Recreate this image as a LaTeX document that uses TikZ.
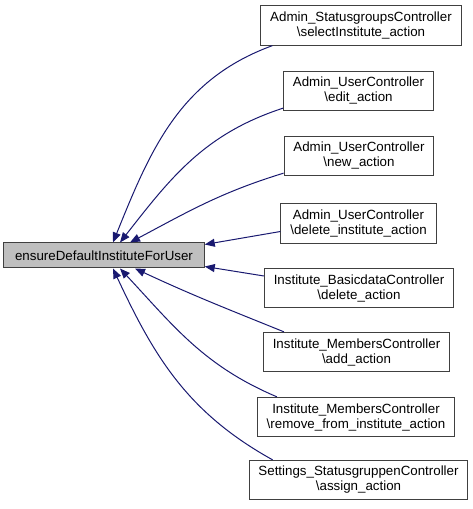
\documentclass[tikz,border=0pt]{standalone}
\usepackage{fontspec}
\setmainfont{Liberation Sans}
\usetikzlibrary{arrows.meta,calc}
\definecolor{edgeblue}{HTML}{191970}
\definecolor{nodegray}{HTML}{BFBFBF}
\begin{document}
\begin{tikzpicture}[x=0.75pt,y=0.75pt,
        >={Triangle[length=7.5pt,width=6pt]},
        box/.style={draw=black!75,line width=0.75pt,fill=white,align=center,
            font=\fontsize{10}{11.25}\selectfont,inner xsep=7pt,inner ysep=0pt,
            minimum height=29.5pt},
        caller/.style={->,draw=edgeblue,line width=0.75pt}]
        \useasboundingbox (0,0) rectangle (473,509);
        % funzione chiamata
        \node[box,fill=nodegray,inner xsep=8.5pt,minimum height=18.75pt] (main) at (104,253.5)
            {ensureDefaultInstituteForUser};
        % chiamanti
        \node[box] (b1) at (361,483.5) {Admin\_StatusgroupsController\\\textbackslash selectInstitute\_action};
        \node[box] (b2) at (358.5,418) {Admin\_UserController\\\textbackslash edit\_action};
        \node[box] (b3) at (359,353) {Admin\_UserController\\\textbackslash new\_action};
        \node[box] (b4) at (358.5,285.5) {Admin\_UserController\\\textbackslash delete\_institute\_action};
        \node[box] (b5) at (359,221) {Institute\_BasicdataController\\\textbackslash delete\_action};
        \node[box] (b6) at (356.5,157) {Institute\_MembersController\\\textbackslash add\_action};
        \node[box] (b7) at (356,92) {Institute\_MembersController\\\textbackslash remove\_from\_institute\_action};
        \node[box] (b8) at (358.5,29) {Settings\_StatusgruppenController\\\textbackslash assign\_action};
        % archi
        \draw[caller] ($(b1.south west)+(12,0)$) to[out=200,in=68] ($(main.north)+(9,0)$);
        \draw[caller] ($(b2.south west)+(0,3)$) to[out=198,in=52] ($(main.north)+(16,0)$);
        \draw[caller] ($(b3.south west)+(0,3)$) to[out=197,in=28] ($(main.north)+(26,0)$);
        \draw[caller] ($(b4.west)+(0,-8)$) -- ($(main.north east)+(0,-2)$);
        \draw[caller] ($(b5.west)+(0,12)$) -- ($(main.south east)+(0,2)$);
        \draw[caller] ($(b6.north west)+(21,0)$) to[out=158,in=-25] ($(main.south)+(31,0)$);
        \draw[caller] ($(b7.north west)+(20,0)$) to[out=157,in=-47] ($(main.south)+(16,0)$);
        \draw[caller] ($(b8.north west)+(24,0)$) to[out=151,in=-65] ($(main.south)+(9,0)$);
    \end{tikzpicture}
\end{document}
